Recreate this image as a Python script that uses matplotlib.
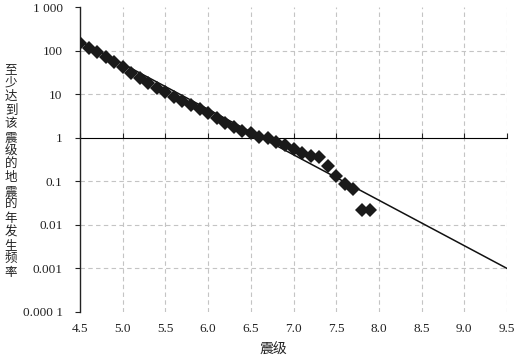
import matplotlib
matplotlib.use("Agg")
import matplotlib.pyplot as plt
from matplotlib.ticker import FixedLocator, NullLocator

magnitudes = [4.5, 4.6, 4.7, 4.8, 4.9, 5.0, 5.1, 5.2, 5.3, 5.4, 5.5, 5.6, 5.7, 5.8, 5.9,
              6.0, 6.1, 6.2, 6.3, 6.4, 6.5, 6.6, 6.7, 6.8, 6.9, 7.0, 7.1, 7.2, 7.3, 7.4,
              7.5, 7.6, 7.7, 7.8, 7.9]
frequencies = [146, 112, 91, 70, 54, 42, 31, 23, 18, 14, 11, 8.7, 7.1, 5.5, 4.5,
               3.6, 2.8, 2.2, 1.8, 1.45, 1.25, 1.05, 0.97, 0.81, 0.68, 0.54, 0.45, 0.39, 0.36, 0.22,
               0.13, 0.087, 0.065, 0.022, 0.022]
fit_magnitudes = [4.5, 9.5]
fit_frequencies = [165, 0.001]

x_ticks = [4.5, 5.0, 5.5, 6.0, 6.5, 7.0, 7.5, 8.0, 8.5, 9.0, 9.5]
x_tick_labels = ["4.5", "5.0", "5.5", "6.0", "6.5", "7.0", "7.5", "8.0", "8.5", "9.0", "9.5"]
y_ticks = [1000, 100, 10, 1, 0.1, 0.01, 0.001, 0.0001]
y_tick_labels = ["1 000", "100", "10", "1", "0.1", "0.01", "0.001", "0.000 1"]
y_label = "至少达到该震级的地震的年发生频率"
x_label = "震级"

serif = "Liberation Serif"
cjk = ["Noto Sans CJK SC", "DejaVu Sans"]

fig = plt.figure(figsize=(5.15, 3.59), dpi=100)
ax = fig.add_axes([80 / 515, 1 - 312 / 359, 427 / 515, 305 / 359])
ax.set_yscale("log")
ax.set_xlim(4.5, 9.5)
ax.set_ylim(0.0001, 1000)

# grid
for xv in x_ticks[1:]:
    ax.axvline(xv, color="#c4c4c4", lw=0.8, ls=(0, (4, 3)), zorder=0)
for yv in y_ticks:
    if yv in (1000, 0.0001, 1):
        continue
    ax.axhline(yv, color="#c4c4c4", lw=0.8, ls=(0, (4, 3)), zorder=0)

ax.plot(fit_magnitudes, fit_frequencies, color="#111111", lw=1.1, zorder=2)
ax.plot(magnitudes, frequencies, ls="none", marker="D", ms=7, color="#1a1a1a",
        markeredgewidth=0, zorder=3)

for s in ["top", "right", "bottom"]:
    ax.spines[s].set_visible(False)
ax.spines["left"].set_color("#222222")
ax.spines["left"].set_linewidth(1.0)

ax.yaxis.set_major_locator(FixedLocator(y_ticks))
ax.yaxis.set_minor_locator(NullLocator())
ax.set_yticklabels(y_tick_labels, fontfamily=serif, fontsize=9.5, color="#222222")
ax.tick_params(axis="y", direction="out", length=3.5, width=0.8, pad=9, color="#222222")

ax.xaxis.set_major_locator(FixedLocator(x_ticks))
ax.set_xticklabels(x_tick_labels, fontfamily=serif, fontsize=9.5, color="#222222")
ax.tick_params(axis="x", length=0, pad=8)

# x axis crossing at y = 1 (axes fraction 4/7)
sec = ax.secondary_xaxis(4 / 7)
sec.set_xticks(x_ticks)
sec.set_xticklabels([])
sec.spines["bottom"].set_color("#222222")
sec.spines["bottom"].set_linewidth(1.0)
sec.tick_params(axis="x", direction="out", length=3.5, width=0.8, color="#222222")

fig.text(11 / 515, 1 - 171 / 359, "\n".join(y_label), family=cjk, fontsize=9,
         ha="center", va="center", linespacing=1.05, color="#222222")
fig.text(273.5 / 515, 1 - 350 / 359, x_label, family=cjk, fontsize=10,
         ha="center", va="center", color="#222222")

fig.savefig("out.png", dpi=100)
